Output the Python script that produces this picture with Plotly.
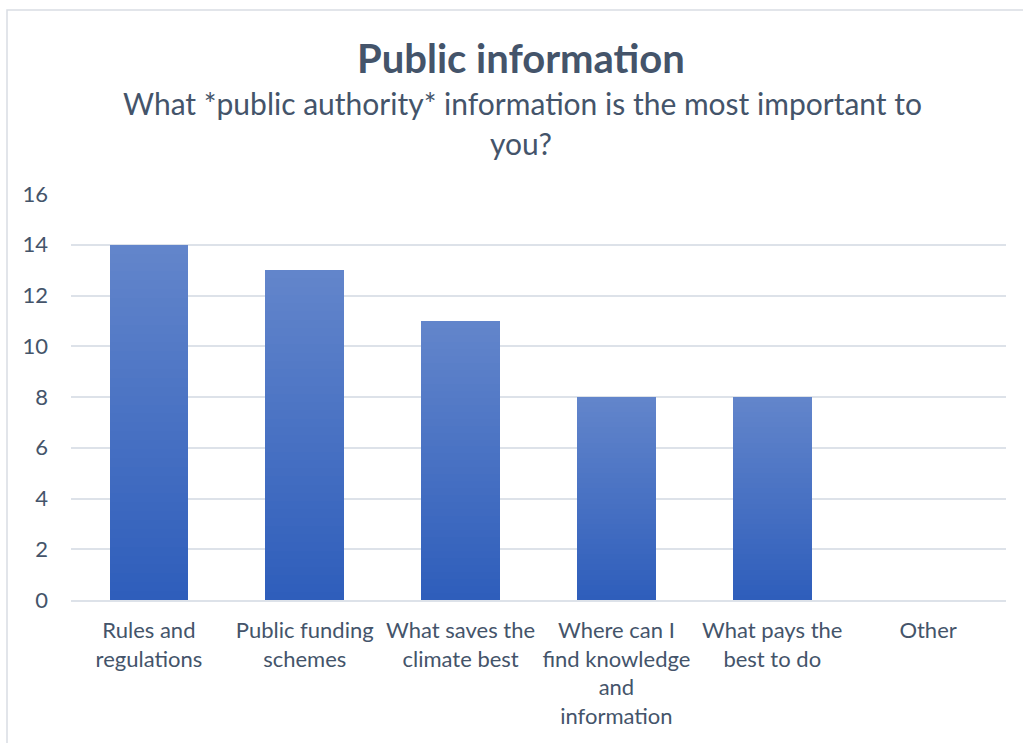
import plotly.graph_objects as go

# Survey results
categories = [
    "Rules and<br>regulations",
    "Public funding<br>schemes",
    "What saves the<br>climate best",
    "Where can I<br>find knowledge<br>and<br>information",
    "What pays the<br>best to do",
    "Other",
]
counts = [14, 13, 11, 8, 8, 0]
y_ticks = [0, 2, 4, 6, 8, 10, 12, 14, 16]

title_text = "Public information"
subtitle_lines = ["What *public authority* information is the most important to", "you?"]

TEXT = "#44546a"
GRID = "#dde2e9"
FONT = "Lato"

# Vertical gradient: each bar is built from equal stacked slices of its own value
N_SLICES = 40
bottom_rgb = (46, 94, 187)
top_rgb = (99, 133, 203)


def mix(t):
    r, g, b = (round(bottom_rgb[i] + (top_rgb[i] - bottom_rgb[i]) * t) for i in range(3))
    return f"rgb({r},{g},{b})"


fig = go.Figure()
for k in range(N_SLICES):
    fig.add_trace(go.Bar(
        x=categories,
        y=[v / N_SLICES for v in counts],
        marker=dict(color=mix((k + 0.5) / N_SLICES), line=dict(width=0)),
        showlegend=False,
        hoverinfo="skip",
    ))

W, H = 1023, 743
ml, mr, mt, mb = 71, 17, 194, 143
pw, ph = W - ml - mr, H - mt - mb


def px_x(p):
    return (p - ml) / pw


def px_y(p):
    return (H - mb - p) / ph


fig.update_layout(
    width=W, height=H,
    margin=dict(l=ml, r=mr, t=mt, b=mb, pad=0),
    barmode="stack",
    bargap=0.495,
    plot_bgcolor="white",
    paper_bgcolor="white",
    font=dict(family=FONT, color=TEXT, size=22),
    xaxis=dict(
        showgrid=False, zeroline=False, showline=True, linecolor=GRID, linewidth=1.5,
        ticks="", ticklabelstandoff=10,
        tickfont=dict(size=22, color=TEXT, family=FONT),
        fixedrange=True,
    ),
    yaxis=dict(
        range=[0, 16], tickvals=y_ticks, showgrid=True, gridcolor=GRID, gridwidth=1.5,
        zeroline=False, showline=False, ticks="", ticklabelstandoff=22,
        tickfont=dict(size=22, color=TEXT, family=FONT),
        fixedrange=True,
    ),
    shapes=[dict(
        type="rect", xref="paper", yref="paper",
        x0=px_x(7), x1=px_x(1040), y0=px_y(770), y1=px_y(10),
        line=dict(color="#d9dde3", width=1.5), fillcolor="rgba(0,0,0,0)", layer="below",
    )],
    annotations=[
        dict(text=f"<b>{title_text}</b>", xref="paper", yref="paper",
             x=px_x(521), y=px_y(58), xanchor="center", yanchor="middle",
             showarrow=False, font=dict(size=40, color=TEXT, family=FONT)),
        dict(text=subtitle_lines[0], xref="paper", yref="paper",
             x=px_x(522), y=px_y(103), xanchor="center", yanchor="middle",
             showarrow=False, font=dict(size=30, color=TEXT, family=FONT)),
        dict(text=subtitle_lines[1], xref="paper", yref="paper",
             x=px_x(521), y=px_y(143), xanchor="center", yanchor="middle",
             showarrow=False, font=dict(size=30, color=TEXT, family=FONT)),
    ],
)

fig.write_html("out.html")
